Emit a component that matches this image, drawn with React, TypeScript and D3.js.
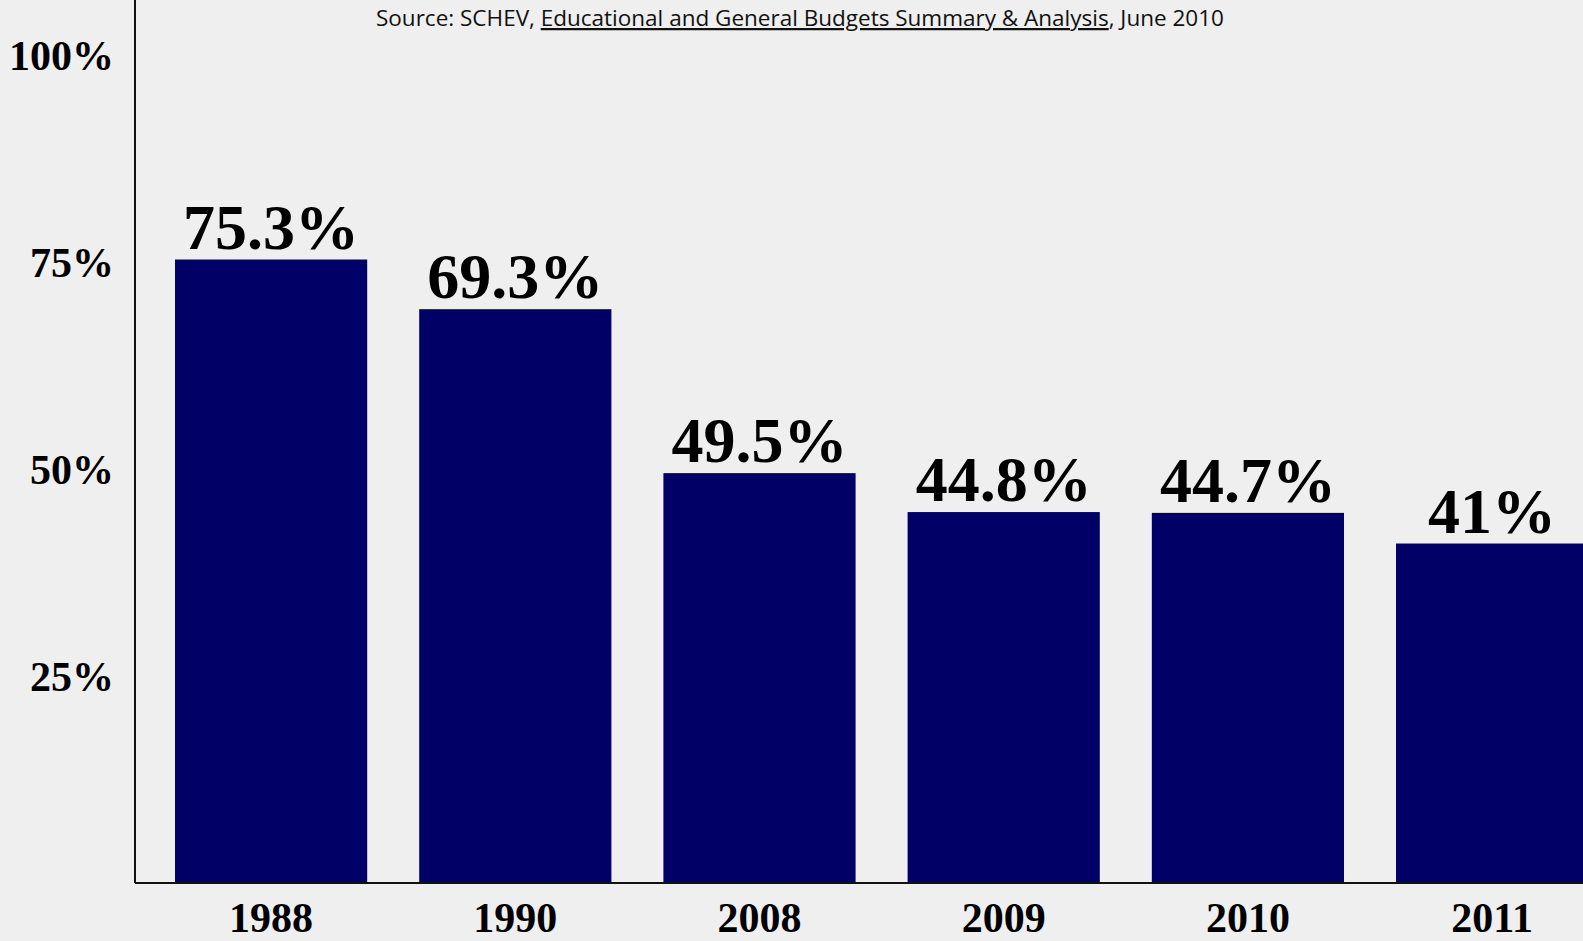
import React, { useEffect, useRef } from "react";
import * as d3 from "d3";

const years = ["1988", "1990", "2008", "2009", "2010", "2011"];
const shares = [75.3, 69.3, 49.5, 44.8, 44.7, 41];
const valueLabels = ["75.3%", "69.3%", "49.5%", "44.8%", "44.7%", "41%"];
const yTicks = [25, 50, 75, 100];
const sourcePrefix = "Source: SCHEV, ";
const sourceTitle = "Educational and General Budgets Summary & Analysis";
const sourceSuffix = ", June 2010";

const W = 1583;
const H = 941;

export default function App() {
  const ref = useRef<SVGSVGElement | null>(null);

  useEffect(() => {
    document.body.style.margin = "0";
    const svg = d3.select(ref.current);
    svg.selectAll("*").remove();

    const baseY = 883;
    const axisX = 135;

    const x = d3.scaleBand<string>()
      .domain(years)
      .range([149, 149 + 6 * 244.2])
      .paddingInner(0.213)
      .paddingOuter(0.1065);

    const y = d3.scaleLinear().domain([0, 100]).range([baseY, 55]);

    svg.append("rect").attr("x", 0).attr("y", 0).attr("width", W).attr("height", H).attr("fill", "#efefef");

    // source line
    const src = svg.append("text")
      .attr("x", 376)
      .attr("y", 26)
      .attr("font-family", "'Open Sans', 'Liberation Sans', sans-serif")
      .attr("font-size", 22.5)
      .attr("fill", "#111");
    src.append("tspan").text(sourcePrefix);
    src.append("tspan").attr("text-decoration", "underline").text(sourceTitle);
    src.append("tspan").text(sourceSuffix);

    // bars
    svg.append("g")
      .selectAll("rect")
      .data(shares)
      .join("rect")
      .attr("x", (_, i) => x(years[i])!)
      .attr("y", (d) => y(d))
      .attr("width", x.bandwidth())
      .attr("height", (d) => baseY - y(d))
      .attr("fill", "#000066");

    // axes lines
    svg.append("line")
      .attr("x1", axisX).attr("x2", axisX)
      .attr("y1", 0).attr("y2", baseY)
      .attr("stroke", "#111").attr("stroke-width", 2);
    svg.append("line")
      .attr("x1", axisX).attr("x2", W)
      .attr("y1", baseY).attr("y2", baseY)
      .attr("stroke", "#111").attr("stroke-width", 2);

    const serif = "Liberation Serif, Times New Roman, Times, serif";

    // value labels
    svg.append("g")
      .selectAll("text")
      .data(shares)
      .join("text")
      .attr("x", (_, i) => x(years[i])! + x.bandwidth() / 2)
      .attr("y", (d) => y(d) - 11)
      .attr("text-anchor", "middle")
      .attr("font-family", serif)
      .attr("font-weight", "bold")
      .attr("font-size", 64)
      .attr("fill", "#000")
      .text((_, i) => valueLabels[i]);

    // x labels
    svg.append("g")
      .selectAll("text")
      .data(years)
      .join("text")
      .attr("x", (d) => x(d)! + x.bandwidth() / 2)
      .attr("y", 932)
      .attr("text-anchor", "middle")
      .attr("font-family", serif)
      .attr("font-weight", "bold")
      .attr("font-size", 42)
      .attr("fill", "#000")
      .text((d) => d);

    // y tick labels
    svg.append("g")
      .selectAll("text")
      .data(yTicks)
      .join("text")
      .attr("x", 114)
      .attr("y", (d) => y(d))
      .attr("dy", "0.35em")
      .attr("text-anchor", "end")
      .attr("font-family", serif)
      .attr("font-weight", "bold")
      .attr("font-size", 42)
      .attr("fill", "#000")
      .text((d) => `${d}%`);
  }, []);

  return (
    <svg
      ref={ref}
      width={W}
      height={H}
      style={{ display: "block", position: "absolute", left: 0, top: 0, overflow: "hidden" }}
    />
  );
}
